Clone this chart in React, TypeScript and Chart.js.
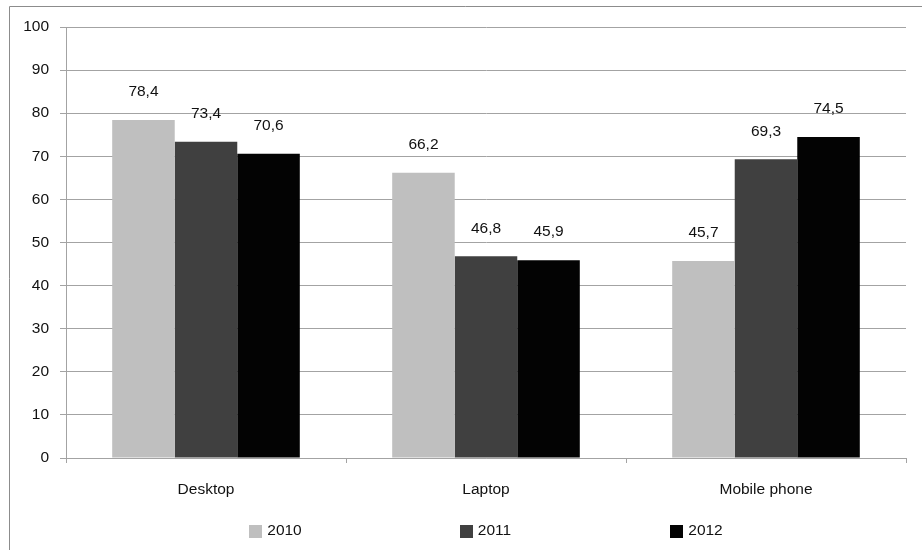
import React, { useEffect, useRef } from "react";
import { Chart, registerables } from "chart.js";

Chart.register(...registerables);

const categories = ["Desktop", "Laptop", "Mobile phone"];
const seriesNames = ["2010", "2011", "2012"];
const values2010 = [78.4, 66.2, 45.7];
const values2011 = [73.4, 46.8, 69.3];
const values2012 = [70.6, 45.9, 74.5];
const seriesColors = ["#bfbfbf", "#404040", "#030303"];

const FONT_FAMILY = "'Liberation Sans', Arial, sans-serif";
const FONT_SIZE = 15.5;
const TEXT_COLOR = "#111111";
const LINE_COLOR = "#a3a3a3";

const formatValue = (v: number) => v.toFixed(1).replace(".", ",");

// Outer frame (left and top edges of the surrounding box)
const framePlugin = {
  id: "frame",
  beforeDraw(chart: any) {
    const { ctx, width, height } = chart;
    ctx.save();
    ctx.strokeStyle = "#8c8c8c";
    ctx.lineWidth = 1;
    ctx.beginPath();
    ctx.moveTo(9.5, height);
    ctx.lineTo(9.5, 6.5);
    ctx.lineTo(width, 6.5);
    ctx.stroke();
    ctx.restore();
  },
};

// Value labels above each bar
const valueLabelPlugin = {
  id: "valueLabels",
  afterDatasetsDraw(chart: any) {
    const { ctx } = chart;
    ctx.save();
    ctx.font = `${FONT_SIZE}px ${FONT_FAMILY}`;
    ctx.fillStyle = TEXT_COLOR;
    ctx.textAlign = "center";
    ctx.textBaseline = "middle";
    chart.data.datasets.forEach((ds: any, i: number) => {
      const meta = chart.getDatasetMeta(i);
      meta.data.forEach((bar: any, j: number) => {
        ctx.fillText(formatValue(ds.data[j]), bar.x, bar.y - 28);
      });
    });
    ctx.restore();
  },
};

// Bottom legend with evenly spaced entries, centred under the plot area
const bottomLegendPlugin = {
  id: "bottomLegend",
  afterDraw(chart: any) {
    const { ctx, chartArea, height } = chart;
    const box = 13;
    const gap = 5;
    const step = 210.5;
    const y = height - 19;
    ctx.save();
    ctx.font = `${FONT_SIZE}px ${FONT_FAMILY}`;
    ctx.textBaseline = "middle";
    ctx.textAlign = "left";
    const datasets = chart.data.datasets;
    const lastWidth = box + gap + ctx.measureText(datasets[datasets.length - 1].label).width;
    const total = step * (datasets.length - 1) + lastWidth;
    const startX = (chartArea.left + chartArea.right) / 2 - total / 2;
    datasets.forEach((ds: any, i: number) => {
      const x = startX + i * step;
      ctx.fillStyle = ds.backgroundColor;
      ctx.fillRect(Math.round(x), Math.round(y - box / 2), box, box);
      ctx.fillStyle = TEXT_COLOR;
      ctx.fillText(ds.label, x + box + gap, y);
    });
    ctx.restore();
  },
};

export default function App() {
  const canvasRef = useRef<HTMLCanvasElement | null>(null);

  useEffect(() => {
    if (!canvasRef.current) return;
    const seriesValues = [values2010, values2011, values2012];
    const chart = new Chart(canvasRef.current, {
      type: "bar",
      data: {
        labels: categories,
        datasets: seriesNames.map((name, i) => ({
          label: name,
          data: seriesValues[i],
          backgroundColor: seriesColors[i],
          borderWidth: 0,
          categoryPercentage: 0.67,
          barPercentage: 1,
        })),
      },
      options: {
        responsive: false,
        animation: false,
        devicePixelRatio: 1,
        layout: { padding: { top: 27, right: 16, left: 0, bottom: 0 } },
        plugins: {
          legend: { display: false },
          tooltip: { enabled: false },
          title: { display: false },
        },
        scales: {
          x: {
            afterFit: (scale: any) => {
              scale.height = 92;
            },
            grid: {
              display: true,
              offset: true,
              drawOnChartArea: false,
              drawTicks: true,
              tickLength: 5,
              color: LINE_COLOR,
            },
            border: { display: true, color: LINE_COLOR },
            ticks: {
              color: TEXT_COLOR,
              font: { family: FONT_FAMILY, size: FONT_SIZE },
              padding: 17,
              maxRotation: 0,
            },
          },
          y: {
            min: 0,
            max: 100,
            afterFit: (scale: any) => {
              scale.width = 66;
            },
            grid: {
              color: LINE_COLOR,
              tickLength: 6,
              drawTicks: true,
            },
            border: { display: true, color: LINE_COLOR },
            ticks: {
              stepSize: 10,
              color: TEXT_COLOR,
              font: { family: FONT_FAMILY, size: FONT_SIZE },
              padding: 11,
            },
          },
        },
      },
      plugins: [framePlugin, valueLabelPlugin, bottomLegendPlugin],
    });
    return () => chart.destroy();
  }, []);

  return (
    <div style={{ position: "fixed", left: 0, top: 0, width: 922, height: 550, background: "#fff" }}>
      <canvas ref={canvasRef} width={922} height={550} style={{ display: "block" }} />
    </div>
  );
}
